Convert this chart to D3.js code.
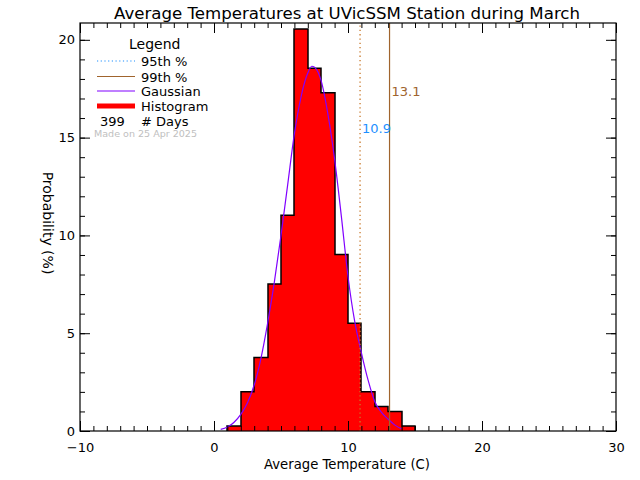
<!DOCTYPE html>
<html><head><meta charset="utf-8">
<script src="https://cdn.jsdelivr.net/npm/d3@7/dist/d3.min.js"></script>
<style>
html,body{margin:0;padding:0;background:#fff;}
text{font-family:"DejaVu Sans","Liberation Sans",sans-serif;}
</style></head>
<body>
<svg id="chart" width="640" height="480"></svg>
<script>
// ---- data ----
const binStarts = [1,2,3,4,5,6,7,8,9,10,11,12,13,14];
const binWidth = 1;
const probabilities = [0.25,2.01,3.76,7.52,11.03,20.55,18.55,17.29,9.02,5.51,2.01,1.25,1.00,0.25];
const gaussX = [0.5,1.0,1.5,2.0,2.5,3.0,3.5,4.0,4.5,5.0,5.5,6.0,6.5,7.0,7.3,7.5,8.0,8.5,9.0,9.5,10.0,10.5,11.0,11.5,12.0,12.5,13.0,13.5,14.0];
const gaussY = [0.08,0.2,0.45,0.85,1.45,2.35,3.7,5.5,7.6,10.0,12.6,15.2,17.1,18.3,18.65,18.6,17.9,16.2,13.9,11.0,7.9,5.6,4.0,2.6,1.5,0.95,0.6,0.3,0.1];
const p95 = 10.9, p99 = 13.1;
const nDays = 399;
const xTicks = [-10,0,10,20,30];
const yTicks = [0,5,10,15,20];
const titleText = "Average Temperatures at UVicSSM Station during March";
const xTitle = "Average Temperature (C)";
const yTitle = "Probability  (%)";
const madeOn = "Made on 25 Apr 2025";

// ---- layout ----
const L = 80, R = 616, T = 23, B = 431;
const svg = d3.select("#chart");
const x = d3.scaleLinear().domain([-10,30]).range([L,R]);
const y = d3.scaleLinear().domain([0,20.86]).range([B,T]);

const col95 = "#c8782a", col95leg = "#1e90ff", col99 = "#a0642d", colG = "#8000ff";

// histogram bars (fill only)
svg.append("g").attr("shape-rendering","crispEdges").selectAll("rect").data(binStarts).join("rect")
  .attr("x", d => Math.round(x(d)))
  .attr("width", d => Math.round(x(d+binWidth)) - Math.round(x(d)))
  .attr("y", (d,i) => y(probabilities[i]))
  .attr("height", (d,i) => y(0) - y(probabilities[i]))
  .attr("fill", "#ff0000");

// histogram step outline
const stepPts = [[binStarts[0], 0]]
  .concat(binStarts.map((d,i) => [d, probabilities[i]]))
  .concat([[binStarts[binStarts.length-1]+binWidth, probabilities[probabilities.length-1]],
           [binStarts[binStarts.length-1]+binWidth, 0]]);
svg.append("path").datum(stepPts)
  .attr("d", d3.line().x(d => Math.round(x(d[0]))).y(d => y(d[1])).curve(d3.curveStepAfter))
  .attr("fill","none").attr("stroke","#000").attr("stroke-width",1.5);

// gaussian
const line = d3.line().x(d => x(d[0])).y(d => y(d[1])).curve(d3.curveMonotoneX);
svg.append("path").datum(gaussX.map((v,i) => [v, gaussY[i]]))
  .attr("d", line).attr("fill","none").attr("stroke", colG).attr("stroke-width", 1.2);

// percentile lines
svg.append("line").attr("x1", x(p95)).attr("x2", x(p95)).attr("y1", B).attr("y2", T)
  .attr("stroke", col95).attr("stroke-width", 1.3).attr("stroke-dasharray", "1.3,3");
svg.append("line").attr("x1", x(p99)).attr("x2", x(p99)).attr("y1", B).attr("y2", T)
  .attr("stroke", col99).attr("stroke-width", 1.2);
svg.append("text").attr("x", x(p95)+2).attr("y", 133).attr("fill", col95leg)
  .attr("font-size", 13).text(p95.toFixed(1));
svg.append("text").attr("x", x(p99)+2).attr("y", 96).attr("fill", col99)
  .attr("font-size", 13).text(p99.toFixed(1));

// axes
function styleAxis(g){ g.select(".domain").remove(); g.selectAll("line").attr("stroke","#000"); g.selectAll("text").attr("font-size",13).attr("fill","#000").attr("font-family","DejaVu Sans, sans-serif"); }
const minorX = d3.range(-10,31,1), minorY = d3.range(0,21,1);
svg.append("g").attr("transform",`translate(0,${B})`).call(d3.axisBottom(x).tickValues(minorX).tickSize(-5).tickFormat("")).call(styleAxis);
svg.append("g").attr("transform",`translate(0,${B})`).call(d3.axisBottom(x).tickValues(xTicks).tickSize(-10).tickPadding(12).tickFormat(d3.format("d"))).call(styleAxis);
svg.append("g").attr("transform",`translate(0,${T})`).call(d3.axisTop(x).tickValues(minorX).tickSize(-5).tickFormat("")).call(styleAxis);
svg.append("g").attr("transform",`translate(0,${T})`).call(d3.axisTop(x).tickValues(xTicks).tickSize(-10).tickFormat("")).call(styleAxis);
svg.append("g").attr("transform",`translate(${L},0)`).call(d3.axisLeft(y).tickValues(minorY).tickSize(-5).tickFormat("")).call(styleAxis);
svg.append("g").attr("transform",`translate(${L},0)`).call(d3.axisLeft(y).tickValues(yTicks).tickSize(-10).tickPadding(5).tickFormat(d3.format("d"))).call(styleAxis);
svg.append("g").attr("transform",`translate(${R},0)`).call(d3.axisRight(y).tickValues(minorY).tickSize(-5).tickFormat("")).call(styleAxis);
svg.append("g").attr("transform",`translate(${R},0)`).call(d3.axisRight(y).tickValues(yTicks).tickSize(-10).tickFormat("")).call(styleAxis);

// frame
svg.append("rect").attr("x",L).attr("y",T).attr("width",R-L).attr("height",B-T)
  .attr("fill","none").attr("stroke","#000").attr("stroke-width",1.2);

// titles
svg.append("text").attr("x",347).attr("y",19).attr("text-anchor","middle")
  .attr("font-size",16).attr("textLength",466).attr("lengthAdjust","spacingAndGlyphs").text(titleText);
svg.append("text").attr("x",347).attr("y",469).attr("text-anchor","middle")
  .attr("font-size",14).attr("textLength",166).attr("lengthAdjust","spacingAndGlyphs").text(xTitle);
svg.append("text").attr("transform","translate(43,223) rotate(90)").attr("text-anchor","middle")
  .attr("font-size",14).text(yTitle);

// legend
const lg = svg.append("g");
lg.append("text").attr("x",129).attr("y",49).attr("font-size",14).text("Legend");
const legItems = [
  {label:"95th %", y:61, stroke:col95leg, dash:"1.2,2.5", w:1.2},
  {label:"99th %", y:76.5, stroke:col99, dash:null, w:1.2},
  {label:"Gaussian", y:91, stroke:colG, dash:null, w:1.2},
  {label:"Histogram", y:106, stroke:"#ff0000", dash:null, w:5}
];
legItems.forEach(it => {
  const l = lg.append("line").attr("x1",97).attr("x2",135).attr("y1",it.y).attr("y2",it.y)
    .attr("stroke",it.stroke).attr("stroke-width",it.w);
  if (it.dash) l.attr("stroke-dasharray",it.dash);
  lg.append("text").attr("x",141).attr("y",it.y+5).attr("font-size",13).text(it.label);
});
lg.append("text").attr("x",100).attr("y",126).attr("font-size",13).text(String(nDays));
lg.append("text").attr("x",141).attr("y",126).attr("font-size",13).text("# Days");
lg.append("text").attr("x",94).attr("y",137).attr("font-size",9).attr("fill","#c0c0c0")
  .attr("textLength",103).attr("lengthAdjust","spacingAndGlyphs").text(madeOn);
</script>
</body></html>
